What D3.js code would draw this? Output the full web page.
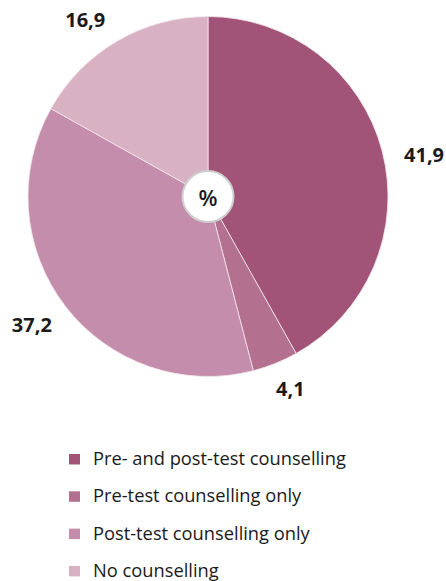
<!DOCTYPE html>
<html>
<head>
<meta charset="utf-8">
<script src="https://cdn.jsdelivr.net/npm/d3@7"></script>
<style>
  html, body { margin: 0; padding: 0; background: #fff; }
  svg { display: block; }
</style>
</head>
<body>
<svg id="chart" width="446" height="581"></svg>
<script>
// Share of respondents by counselling received (%)
const categories = [
  "Pre- and post-test counselling",
  "Pre-test counselling only",
  "Post-test counselling only",
  "No counselling"
];
const values = [41.9, 4.1, 37.2, 16.9];
const valueLabels = ["41,9", "4,1", "37,2", "16,9"];
const colors = ["#a15478", "#b4708f", "#c48dab", "#d8b1c3"];

const svg = d3.select("#chart");
const font = "'Open Sans', 'Noto Sans', sans-serif";

const cx = 208, cy = 196.5, radius = 180;

const pie = d3.pie().sort(null).value(d => d.value);
const arcs = pie(categories.map((c, i) => ({ cat: c, value: values[i], label: valueLabels[i], color: colors[i] })));

const arc = d3.arc().innerRadius(0).outerRadius(radius);
const labelArc = d3.arc().innerRadius(215).outerRadius(215);
// small hand nudges so value labels clear the rim nicely
const labelNudge = [[8, 12], [2, -7], [-6, -3], [-14, 8]];

const g = svg.append("g").attr("transform", `translate(${cx},${cy})`);

g.selectAll("path.slice")
  .data(arcs)
  .join("path")
  .attr("class", "slice")
  .attr("d", arc)
  .attr("fill", d => d.data.color)
  .attr("stroke", "#f3e6ec")
  .attr("stroke-width", 0.8);

g.selectAll("text.val")
  .data(arcs)
  .join("text")
  .attr("class", "val")
  .attr("transform", (d, i) => {
    const [x, y] = labelArc.centroid(d);
    return `translate(${x + labelNudge[i][0]},${y + labelNudge[i][1]})`;
  })
  .attr("text-anchor", "middle")
  .attr("dominant-baseline", "central")
  .attr("font-family", font)
  .attr("font-weight", 700)
  .attr("font-size", 20)
  .attr("fill", "#1a1a1a")
  .text(d => d.data.label);

// Centre badge
g.append("circle")
  .attr("r", 25.5)
  .attr("fill", "#fff")
  .attr("stroke", "#cfcfcf")
  .attr("stroke-width", 2);
g.append("text")
  .attr("text-anchor", "middle")
  .attr("dominant-baseline", "central")
  .attr("font-family", font)
  .attr("font-weight", 600)
  .attr("font-size", 22)
  .attr("fill", "#1a1a1a")
  .text("%");

// Legend
const legend = svg.append("g").attr("transform", "translate(69,454)");
const row = legend.selectAll("g")
  .data(categories)
  .join("g")
  .attr("transform", (d, i) => `translate(0,${i * 37.3})`);
row.append("rect")
  .attr("width", 11).attr("height", 10.5)
  .attr("fill", (d, i) => colors[i]);
row.append("text")
  .attr("x", 24).attr("y", 11)
  .attr("font-family", font)
  .attr("font-size", 18.3)
  .attr("fill", "#1a1a1a")
  .text(d => d);
</script>
</body>
</html>
